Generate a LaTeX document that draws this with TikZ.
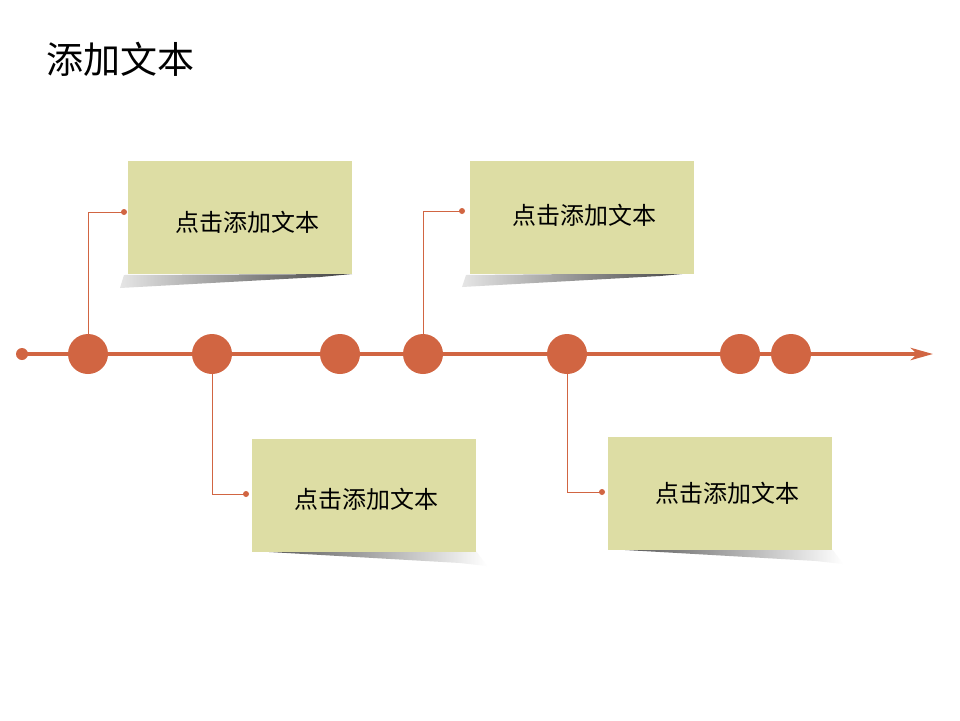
\documentclass[tikz,border=0pt]{standalone}
\usepackage{fontspec}
\newfontfamily\cjk{Noto Sans CJK SC}
\usetikzlibrary{arrows.meta}
\definecolor{tlorange}{RGB}{209,101,66}
\definecolor{boxfill}{RGB}{221,221,164}
\tikzset{
  tl/.style={draw=tlorange, line width=4pt},
  bigdot/.style={circle, fill=tlorange, minimum size=40pt, inner sep=0pt},
  smalldot/.style={circle, fill=tlorange, minimum size=12pt, inner sep=0pt},
  tinydot/.style={circle, fill=tlorange, minimum size=6pt, inner sep=0pt},
  conn/.style={draw=tlorange, line width=0.9pt},
  notebox/.style={rectangle, fill=boxfill, minimum width=224pt, minimum height=113pt, inner sep=0pt},
  notetext/.style={font=\cjk\fontsize{24}{27}\selectfont, text=black, inner sep=0pt},
  shadowtop/.style={left color=gray!20, right color=black!75, draw=none},
  shadowbot/.style={left color=black!70, right color=white, draw=none},
}
\begin{document}
\begin{tikzpicture}[x=1pt,y=-1pt]
\useasboundingbox (0,0) rectangle (960,720);
\fill[white] (0,0) rectangle (960,720);
% title
\node[anchor=west, font=\cjk\fontsize{37}{40}\selectfont, inner sep=0pt] (title) at (46,59) {添加文本};
% shadows
\shade[shadowtop] (124,275) -- (352,274) -- (320,277) -- (120,288) -- cycle;
\shade[shadowtop] (466,275) -- (693,273) -- (660,276) -- (462,287) -- cycle;
\shade[shadowbot] (252,551) -- (476,551) -- (487,566) -- (460,563) -- cycle;
\shade[shadowbot] (608,549) -- (832,549) -- (843,564) -- (816,561) -- cycle;
% boxes
\node[notebox] (b1) at (240,217.5) {};
\node[notebox] (b2) at (581.5,217) {};
\node[notebox] (b3) at (364,495) {};
\node[notebox] (b4) at (720,493) {};
\node[notetext] (t1) at (247,222) {点击添加文本};
\node[notetext] (t2) at (584,215) {点击添加文本};
\node[notetext] (t3) at (366,499) {点击添加文本};
\node[notetext] (t4) at (727,493) {点击添加文本};
% timeline
\node[smalldot] (d0) at (22,354) {};
\coordinate (end) at (933,354);
\draw[tl, -{Stealth[length=22pt,width=12pt,inset=6pt]}] (d0.center) -- (end);
% connector dots
\node[tinydot] (p1) at (124,212) {};
\node[tinydot] (p2) at (462,211) {};
\node[tinydot] (p3) at (246,494) {};
\node[tinydot] (p4) at (602,492) {};
% circle coordinates for connectors
\coordinate (k1) at (88,354);
\coordinate (k2) at (212,354);
\coordinate (k4) at (423,354);
\coordinate (k5) at (567,354);
\draw[conn] (k1) |- (p1.center);
\draw[conn] (k4) |- (p2.center);
\draw[conn] (k2) |- (p3.center);
\draw[conn] (k5) |- (p4.center);
% big circles
\node[bigdot] (c1) at (88,354) {};
\node[bigdot] (c2) at (212,354) {};
\node[bigdot] (c3) at (340,354) {};
\node[bigdot] (c4) at (423,354) {};
\node[bigdot] (c5) at (567,354) {};
\node[bigdot] (c6) at (740,354) {};
\node[bigdot] (c7) at (791,354) {};
\end{tikzpicture}
\end{document}
